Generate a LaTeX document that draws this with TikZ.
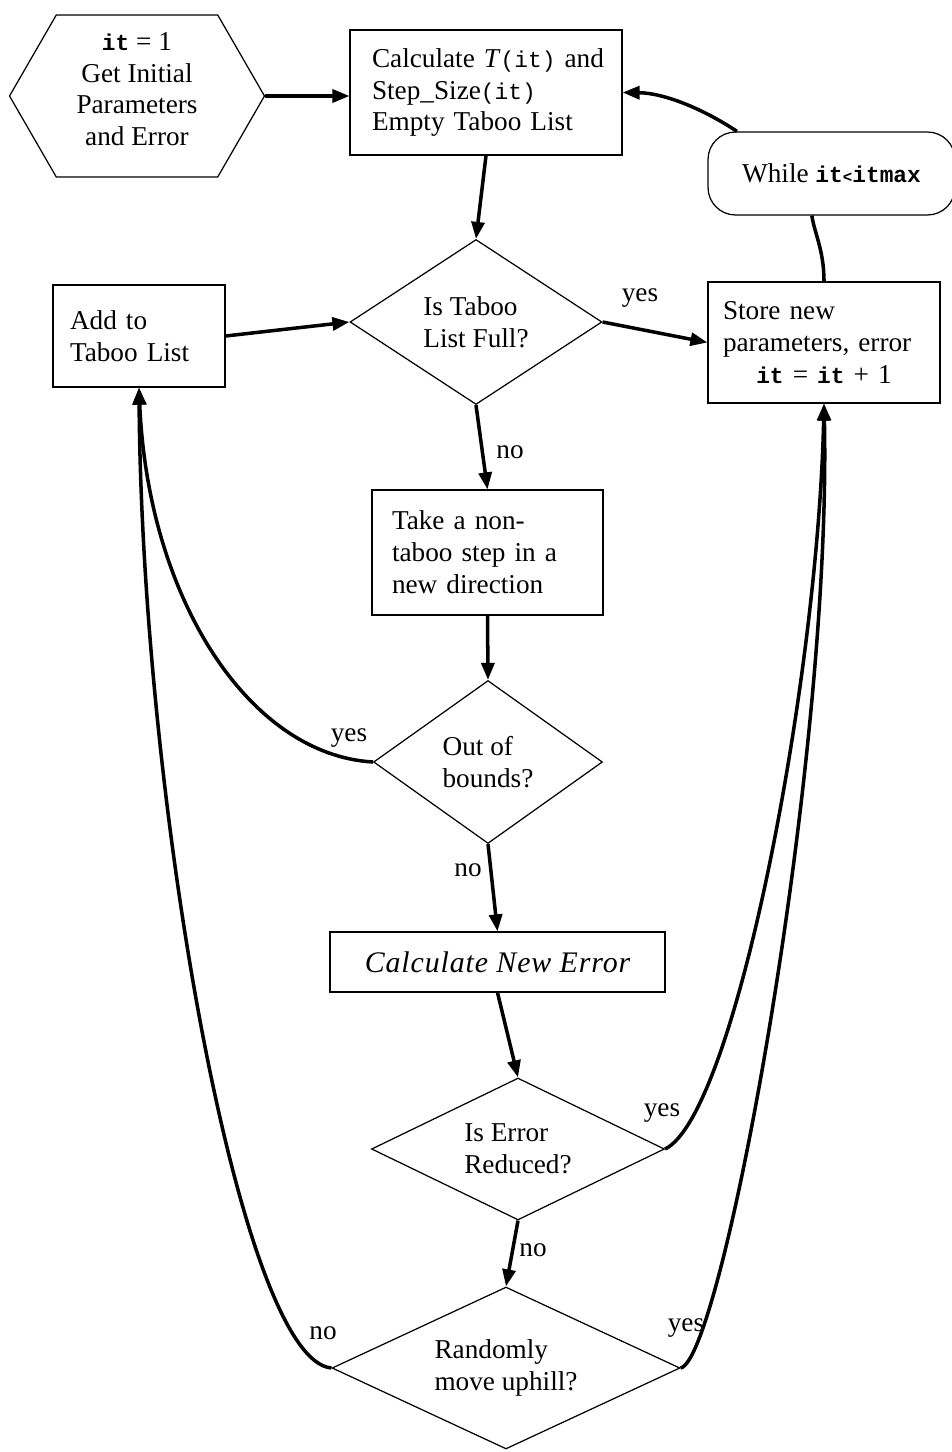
\documentclass[tikz,border=0pt]{standalone}
\usepackage{fontspec}
\setmainfont{Liberation Serif}
\setmonofont{Liberation Mono}
\usetikzlibrary{shapes.geometric,shapes.symbols,arrows.meta}
\newcommand{\itvar}{{\fontsize{13}{18}\selectfont\bfseries\ttfamily it}}
\newcommand{\monosmall}[1]{{\fontsize{13}{18}\selectfont\ttfamily #1}}

\begin{document}
\begin{tikzpicture}[x=0.02cm,y=-0.02cm,
  font=\fontsize{15.5}{18.2}\selectfont,
  procbox/.style={draw,line width=0.7pt,rectangle,align=left},
  decision/.style={draw,line width=0.7pt,diamond,align=left,inner sep=0pt,aspect=1.5},
  flowline/.style={line width=2pt},
  flowarrow/.style={flowline,-{Triangle[length=0.34cm,width=0.26cm]}},
  answer/.style={inner sep=0pt}]
\path[use as bounding box] (0,0) rectangle (951,1452);
\node[draw,line width=0.7pt,signal,signal to=west and east,signal pointer angle=120,minimum width=5.1cm,minimum height=3.24cm,align=center,inner sep=0pt] (start) at (137,96) {\itvar{} = 1\\Get Initial\\Parameters\\and Error\\[-0.36cm]\mbox{}};
\node[procbox,minimum width=5.44cm,minimum height=2.5cm,text width=4.56cm,inner xsep=0.44cm] (calc) at (486,92.5) {\mbox{Calculate \textit{T}\monosmall{(it)} and}\\Step\_Size\monosmall{(it)}\\Empty Taboo List};
\node[draw,line width=0.7pt,rectangle,rounded corners=0.55cm,minimum width=4.94cm,minimum height=1.66cm] (while) at (831.5,173.5) {While {\fontsize{13}{18}\selectfont\bfseries\ttfamily it{\small<}itmax}};
\node[procbox,minimum width=3.44cm,minimum height=2.04cm,text width=2.76cm,inner xsep=0.34cm] (addtab) at (139,336) {Add to\\Taboo List};
\node[decision,minimum width=5.04cm,minimum height=3.3cm] (tabfull) at (476,322) {Is Taboo\\List Full?};
\node[procbox,minimum width=4.64cm,minimum height=2.42cm,text width=4.04cm,inner xsep=0.3cm] (store) at (824,342.5) {Store new\\parameters, error\\\makebox[4.04cm]{\itvar{} = \itvar{} + 1}};
\node[procbox,minimum width=4.62cm,minimum height=2.5cm,text width=3.82cm,inner xsep=0.4cm] (takestep) at (487.5,552.5) {Take a non-\\taboo step in a\\new direction};
\node[decision,minimum width=4.58cm,minimum height=3.26cm] (bounds) at (488,762) {Out of\\bounds?};
\node[procbox,minimum width=6.7cm,minimum height=1.2cm,align=center,font=\fontsize{17}{20}\selectfont\itshape\addfontfeature{LetterSpace=3}] (newerr) at (497.5,962) {Calculate New Error};
\node[decision,minimum width=5.86cm,minimum height=2.84cm] (errred) at (518,1149) {Is Error\\Reduced?};
\node[decision,minimum width=6.96cm,minimum height=3.24cm] (uphill) at (506,1368) {Randomly\\move uphill?};
\node[answer] (fullyes) at (640,298) {yes};
\node[answer] (fullno) at (510,452) {no};
\node[answer] (boundsyes) at (349,738) {yes};
\node[answer] (boundsno) at (468,870) {no};
\node[answer] (reducedyes) at (662,1113) {yes};
\node[answer] (reducedno) at (533,1250) {no};
\node[answer] (uphillno) at (323,1333) {no};
\node[answer] (uphillyes) at (686,1328) {yes};
\draw[flowarrow] (start.east) -- (start.east -| calc.west);
\draw[flowarrow] (calc.south) -- (tabfull.north);
\draw[flowarrow] (addtab.east) -- (tabfull.west);
\draw[flowarrow] (tabfull.east) -- (store.west);
\draw[flowarrow] (tabfull.south) -- (takestep.north);
\draw[flowarrow] (takestep.south) -- (bounds.north);
\draw[flowarrow] (bounds.south) -- (newerr.north);
\draw[flowarrow] (newerr.south) -- (errred.north);
\draw[flowarrow] (errred.south) -- (uphill.north);
\draw[flowarrow] (bounds.west) .. controls (250,755) and (148,600) .. (addtab.south);
\draw[flowarrow] (uphill.west) .. controls (240,1360) and (142,800) .. (addtab.south);
\draw[flowarrow] (errred.east) .. controls (735,1115) and (818,680) .. (store.south);
\draw[flowarrow] (uphill.east) .. controls (722,1360) and (832,760) .. (store.south);
\draw[flowline] (store.north) .. controls (824,250) and (814,232) .. (while.245);
\draw[flowarrow] (while.156) .. controls (705,110) and (665,93) .. (calc.east);
\end{tikzpicture}
\end{document}
